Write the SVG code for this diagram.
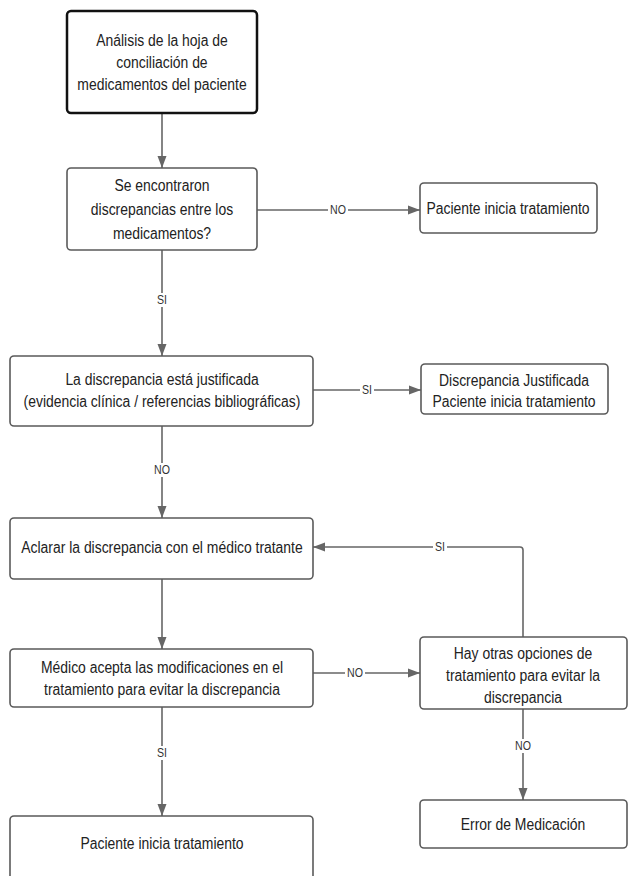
<svg xmlns="http://www.w3.org/2000/svg" width="628" height="876" viewBox="0 0 628 876">
<defs>
<marker id="ah" viewBox="0 0 12 10" refX="12" refY="5" markerWidth="12" markerHeight="10" markerUnits="userSpaceOnUse" orient="auto">
<path d="M0,0.5 L12,5 L0,9.5 z" fill="#666"/>
</marker>
<style>
.box{fill:#fff;stroke:#5a5a5a;stroke-width:1.6}
.main{fill:#fff;stroke:#111;stroke-width:2.5}
.t{font-family:"Liberation Sans",Arial,sans-serif;font-size:16px;fill:#222;text-anchor:middle;transform-box:fill-box;transform-origin:center;transform:scaleX(0.87)}
.c{fill:none;stroke:#666;stroke-width:1.6;marker-end:url(#ah)}
.l{font-family:"Liberation Sans",Arial,sans-serif;font-size:12.5px;fill:#333;text-anchor:middle;transform-box:fill-box;transform-origin:center;transform:scaleX(0.85)}
.lb{fill:#fff}
</style>
</defs>
<rect width="628" height="876" fill="#fff"/>
<g id="connectors">
<path class="c" d="M162,113 V168"/>
<path class="c" d="M257,210 H420"/>
<path class="c" d="M162,250 V356"/>
<path class="c" d="M313,390 H421"/>
<path class="c" d="M162,426 V518"/>
<path class="c" d="M162,579 V649"/>
<path class="c" d="M313,673 H420"/>
<path class="c" d="M523,637 V550 Q523,547 520,547 H313"/>
<path class="c" d="M162,707 V816"/>
<path class="c" d="M523,709 V800"/>
<rect class="lb" x="328" y="203" width="20" height="14"/>
<text class="l" x="338" y="214.5">NO</text>
<rect class="lb" x="155" y="293" width="14" height="14"/>
<text class="l" x="162" y="304.5">SI</text>
<rect class="lb" x="360" y="383" width="14" height="14"/>
<text class="l" x="367" y="394.5">SI</text>
<rect class="lb" x="152" y="463" width="20" height="14"/>
<text class="l" x="162" y="474.5">NO</text>
<rect class="lb" x="433" y="540" width="14" height="14"/>
<text class="l" x="440" y="551.5">SI</text>
<rect class="lb" x="345" y="666" width="20" height="14"/>
<text class="l" x="355" y="677.5">NO</text>
<rect class="lb" x="155" y="746" width="14" height="14"/>
<text class="l" x="162" y="757.5">SI</text>
<rect class="lb" x="513" y="739" width="20" height="14"/>
<text class="l" x="523" y="750.5">NO</text>
</g>
<g id="n1">
<rect class="main" x="67" y="11" width="190" height="102" rx="4"/>
<text class="t" x="162" y="46">Análisis de la hoja de</text>
<text class="t" x="162" y="68">conciliación de</text>
<text class="t" x="162" y="90">medicamentos del paciente</text>
</g>
<g id="n2">
<rect class="box" x="67" y="168" width="190" height="82" rx="4"/>
<text class="t" x="162" y="191">Se encontraron</text>
<text class="t" x="162" y="215">discrepancias entre los</text>
<text class="t" x="162" y="239">medicamentos?</text>
</g>
<g id="n3">
<rect class="box" x="420" y="183" width="177" height="50" rx="4"/>
<text class="t" x="508" y="214">Paciente inicia tratamiento</text>
</g>
<g id="n4">
<rect class="box" x="10" y="356" width="303" height="70" rx="4"/>
<text class="t" x="162" y="385">La discrepancia está justificada</text>
<text class="t" x="162" y="407">(evidencia clínica / referencias bibliográficas)</text>
</g>
<g id="n5">
<rect class="box" x="421" y="364" width="187" height="50" rx="4"/>
<text class="t" x="514" y="386">Discrepancia Justificada</text>
<text class="t" x="514" y="407">Paciente inicia tratamiento</text>
</g>
<g id="n6">
<rect class="box" x="10" y="518" width="303" height="61" rx="4"/>
<text class="t" x="162" y="553">Aclarar la discrepancia con el médico tratante</text>
</g>
<g id="n7">
<rect class="box" x="10" y="649" width="303" height="58" rx="4"/>
<text class="t" x="162" y="673">Médico acepta las modificaciones en el</text>
<text class="t" x="162" y="695">tratamiento para evitar la discrepancia</text>
</g>
<g id="n8">
<rect class="box" x="420" y="637" width="207" height="72" rx="4"/>
<text class="t" x="523" y="659">Hay otras opciones de</text>
<text class="t" x="523" y="681">tratamiento para evitar la</text>
<text class="t" x="523" y="703">discrepancia</text>
</g>
<g id="n9">
<rect class="box" x="10" y="816" width="303" height="70" rx="4"/>
<text class="t" x="162" y="849">Paciente inicia tratamiento</text>
</g>
<g id="n10">
<rect class="box" x="420" y="800" width="207" height="48" rx="4"/>
<text class="t" x="523" y="830">Error de Medicación</text>
</g>
</svg>
